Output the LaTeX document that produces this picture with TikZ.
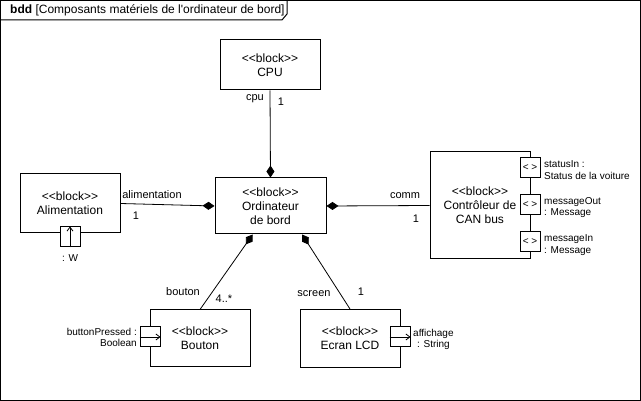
\documentclass[tikz,border=0pt]{standalone}
\usepackage{fontspec}
\setmainfont{Liberation Sans}[Ligatures=TeXOff]
\usetikzlibrary{arrows.meta, positioning}
\tikzset{
    block/.style={rectangle, draw, line width=1pt, fill=white, align=center, inner sep=0pt, font=\fontsize{12}{14}\selectfont},
    port/.style={rectangle, draw, line width=1pt, fill=white, minimum size=20pt, inner sep=0pt, font=\fontsize{10}{11}\selectfont},
    lbl/.style={inner sep=0pt, font=\fontsize{11}{13}\selectfont},
    plbl/.style={inner sep=0pt, align=left, font=\fontsize{10}{11.5}\selectfont},
    comp/.style={{Diamond[length=12pt, width=8pt]}-, line width=0.8pt},
    flow/.style={-{Straight Barb[length=4pt, width=6pt]}, line width=0.8pt}
}
\newcommand{\blk}{<<block>>}

\begin{document}
\begin{tikzpicture}[x=1pt, y=-1pt]
    \useasboundingbox (0,0) rectangle (641,401);
    % frame
    \draw[line width=1pt] (0.5,0.5) rectangle (640.5,400.5);
    \draw[line width=1pt] (0.5,20) -- (282,20) -- (287,14) -- (287,0.5);
    \node[anchor=west, inner sep=0pt, font=\fontsize{12}{14}\selectfont] (title) at (10,10.5) {\textbf{bdd} [Composants matériels de l'ordinateur de bord]};

    % blocks
    \node[block, minimum width=100pt, minimum height=50pt] (cpu) at (270,65) {\blk\\CPU};
    \node[block, minimum width=111pt, minimum height=56pt] (obc) at (270.5,206) {\blk\\Ordinateur\\de bord};
    \node[block, minimum width=100pt, minimum height=59pt] (alim) at (70,203.5) {\blk\\Alimentation};
    \node[block, minimum width=100pt, minimum height=107pt] (can) at (480,205.5) {\blk\\Contrôleur de\\CAN bus};
    \node[block, minimum width=100pt, minimum height=57pt] (bouton) at (200,338.5) {\blk\\Bouton};
    \node[block, minimum width=100pt, minimum height=58pt] (ecran) at (350,338.5) {\blk\\Ecran LCD};

    % ports
    \node[port] (aport) at (70,237) {};
    \node[port] (bport) at (150,337) {};
    \node[port] (eport) at (400,337) {};
    \node[port] (sport) at (530,168) {< >};
    \node[port] (oport) at (530,205) {< >};
    \node[port] (iport) at (530,242) {< >};
    \draw[flow] (aport.south) -- (aport.north);
    \draw[flow] (bport.west) -- (bport.east);
    \draw[flow] (eport.west) -- (eport.east);

    % port labels
    \node[plbl, align=center] (alabel) at (70,258) {: W};
    \node[plbl, anchor=east, align=right] (blabel) at (137,337.5) {buttonPressed :\\Boolean};
    \node[plbl, anchor=west, align=center] (elabel) at (413,339.5) {affichage\\: String};
    \node[plbl, anchor=west] (slabel) at (544,170) {statusIn :\\Status de la voiture};
    \node[plbl, anchor=west] (olabel) at (544,207.5) {messageOut\\: Message};
    \node[plbl, anchor=west] (ilabel) at (544,245) {messageIn\\: Message};

    % compositions
    \draw[comp] (obc.north) -- (cpu.south);
    \draw[comp] (obc.west) -- (alim.east);
    \draw[comp] (obc.east) -- (can.west);
    \draw[comp] (obc.-122) -- (bouton.north);
    \draw[comp] (obc.-42) -- (ecran.north);

    % roles and multiplicities
    \node[lbl] (cpurole) at (255,99) {cpu};
    \node[lbl] (cpumult) at (281,102) {1};
    \node[lbl] (alimrole) at (152,195) {alimentation};
    \node[lbl] (alimmult) at (136,216) {1};
    \node[lbl] (commrole) at (405,196) {comm};
    \node[lbl] (commmult) at (416,219) {1};
    \node[lbl] (boutonrole) at (183,292) {bouton};
    \node[lbl] (boutonmult) at (224,299) {4..*};
    \node[lbl] (screenrole) at (314,294) {screen};
    \node[lbl] (screenmult) at (361,292) {1};
\end{tikzpicture}
\end{document}
